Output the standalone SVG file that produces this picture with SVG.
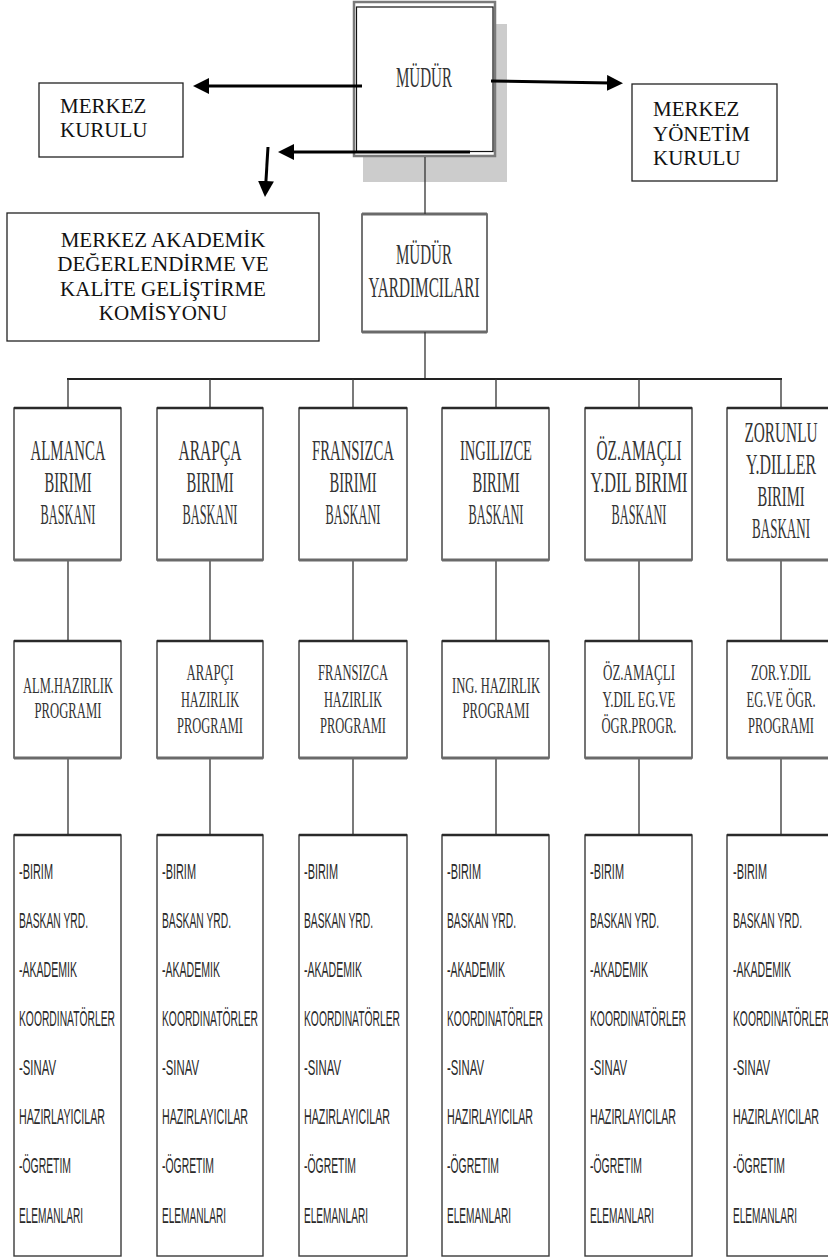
<svg xmlns="http://www.w3.org/2000/svg" width="828" height="1257" viewBox="0 0 828 1257">
<defs>
<style>
.bx{fill:#fff;stroke:#3a3a3a;stroke-width:1.4}
.tb{stroke:#2a2a2a;stroke-width:2.4}
.bb{stroke:#6a6a6a;stroke-width:3}
.ln{stroke:#333;stroke-width:1.3;fill:none}
.ar{stroke:#000;stroke-width:3;fill:none;marker-end:url(#ah)}
.t1{font-family:"Liberation Serif","Times New Roman",serif;font-size:21px;fill:#111}
.cn{font-family:"Liberation Serif","Times New Roman",serif;font-size:30px;fill:#333;text-anchor:middle}
.c2{font-family:"Liberation Serif","Times New Roman",serif;font-size:24px;fill:#333;text-anchor:middle}
.ss{font-family:"Liberation Sans",Arial,sans-serif;font-size:22px;fill:#2a2a2a}
</style>
<marker id="ah" viewBox="0 0 16 16" refX="4" refY="8" markerWidth="16" markerHeight="16" markerUnits="userSpaceOnUse" orient="auto"><path d="M0,0 L16,8 L0,16 z" fill="#000"/></marker>
</defs>
<rect width="828" height="1257" fill="#fff"/>

<g id="mudur">
<rect x="363" y="24" width="144" height="158" fill="#cccccc"/>
<rect x="354" y="2" width="141" height="154" fill="#fff" stroke="#7a7a7a" stroke-width="2.5"/>
<rect x="356.5" y="7" width="136.5" height="144.5" fill="none" stroke="#111" stroke-width="1.2"/>
<text class="cn" x="424" y="87" textLength="56" lengthAdjust="spacingAndGlyphs">MÜDÜR</text>
</g>

<g id="merkez-kurulu">
<rect x="39" y="83" width="144" height="74" fill="#fff" stroke="#222" stroke-width="1.3"/>
<text class="t1" x="60" y="113">MERKEZ</text>
<text class="t1" x="60" y="137">KURULU</text>
</g>

<g id="merkez-yonetim">
<rect x="632" y="84" width="145" height="97" fill="#fff" stroke="#222" stroke-width="1.3"/>
<text class="t1" x="653" y="116">MERKEZ</text>
<text class="t1" x="653" y="141">YÖNETİM</text>
<text class="t1" x="653" y="165">KURULU</text>
</g>

<g id="komisyon">
<rect x="7" y="213" width="312" height="128" fill="#fff" stroke="#222" stroke-width="1.3"/>
<text class="t1" x="163" y="247" text-anchor="middle">MERKEZ AKADEMİK</text>
<text class="t1" x="163" y="271" text-anchor="middle">DEĞERLENDİRME VE</text>
<text class="t1" x="163" y="296" text-anchor="middle">KALİTE GELİŞTİRME</text>
<text class="t1" x="163" y="320" text-anchor="middle">KOMİSYONU</text>
</g>

<g id="yardimcilari">
<rect class="bx" x="362" y="214" width="125" height="118"/>
<line class="bb" x1="362" y1="214" x2="487" y2="214"/>
<line class="bb" x1="362" y1="332" x2="487" y2="332"/>
<text class="cn" x="424" y="264" textLength="56" lengthAdjust="spacingAndGlyphs">MÜDÜR</text>
<text class="cn" x="424" y="297" textLength="111" lengthAdjust="spacingAndGlyphs">YARDIMCILARI</text>
</g>

<g id="connectors">
<line class="ar" x1="362" y1="86" x2="205" y2="86"/>
<line class="ar" x1="491" y1="81" x2="611" y2="83"/>
<line class="ar" x1="470" y1="152" x2="290" y2="152"/>
<line class="ar" x1="268" y1="147" x2="265.7" y2="185"/>
<line class="ln" x1="425" y1="157" x2="425" y2="214"/>
<line class="ln" x1="425" y1="332" x2="425" y2="379"/>
<line stroke="#222" stroke-width="2" x1="67" y1="379" x2="782" y2="379"/>
<path class="ln" d="M68,379V408M210,379V408M353,379V408M496,379V408M639,379V408M781,379V408"/>
<path class="ln" d="M68,560V641M210,560V641M353,560V641M496,560V641M639,560V641M781,560V641"/>
<path class="ln" d="M68,758V835M210,758V835M353,758V835M496,758V835M639,758V835M781,758V835"/>
</g>

<g id="b1-alm">
<rect class="bx" x="14" y="408" width="107" height="152"/><line class="tb" x1="14" y1="408" x2="121" y2="408"/><line class="bb" x1="14" y1="560" x2="121" y2="560"/>
<text class="cn" x="68" y="460" textLength="75" lengthAdjust="spacingAndGlyphs">ALMANCA</text>
<text class="cn" x="68" y="492" textLength="47" lengthAdjust="spacingAndGlyphs">BIRIMI</text>
<text class="cn" x="68" y="524" textLength="55" lengthAdjust="spacingAndGlyphs">BASKANI</text>
</g>
<g id="b1-ara">
<rect class="bx" x="157" y="408" width="106" height="152"/><line class="tb" x1="157" y1="408" x2="263" y2="408"/><line class="bb" x1="157" y1="560" x2="263" y2="560"/>
<text class="cn" x="210" y="460" textLength="63" lengthAdjust="spacingAndGlyphs">ARAPÇA</text>
<text class="cn" x="210" y="492" textLength="47" lengthAdjust="spacingAndGlyphs">BIRIMI</text>
<text class="cn" x="210" y="524" textLength="55" lengthAdjust="spacingAndGlyphs">BASKANI</text>
</g>
<g id="b1-fra">
<rect class="bx" x="299" y="408" width="108" height="152"/><line class="tb" x1="299" y1="408" x2="407" y2="408"/><line class="bb" x1="299" y1="560" x2="407" y2="560"/>
<text class="cn" x="353" y="460" textLength="82" lengthAdjust="spacingAndGlyphs">FRANSIZCA</text>
<text class="cn" x="353" y="492" textLength="47" lengthAdjust="spacingAndGlyphs">BIRIMI</text>
<text class="cn" x="353" y="524" textLength="55" lengthAdjust="spacingAndGlyphs">BASKANI</text>
</g>
<g id="b1-ing">
<rect class="bx" x="442" y="408" width="107" height="152"/><line class="tb" x1="442" y1="408" x2="549" y2="408"/><line class="bb" x1="442" y1="560" x2="549" y2="560"/>
<text class="cn" x="496" y="460" textLength="72" lengthAdjust="spacingAndGlyphs">INGILIZCE</text>
<text class="cn" x="496" y="492" textLength="47" lengthAdjust="spacingAndGlyphs">BIRIMI</text>
<text class="cn" x="496" y="524" textLength="55" lengthAdjust="spacingAndGlyphs">BASKANI</text>
</g>
<g id="b1-oz">
<rect class="bx" x="585" y="408" width="107" height="152"/><line class="tb" x1="585" y1="408" x2="692" y2="408"/><line class="bb" x1="585" y1="560" x2="692" y2="560"/>
<text class="cn" x="639" y="460" textLength="85" lengthAdjust="spacingAndGlyphs">ÖZ.AMAÇLI</text>
<text class="cn" x="639" y="492" textLength="97" lengthAdjust="spacingAndGlyphs">Y.DIL BIRIMI</text>
<text class="cn" x="639" y="524" textLength="55" lengthAdjust="spacingAndGlyphs">BASKANI</text>
</g>
<g id="b1-zor">
<rect class="bx" x="727" y="408" width="110" height="152"/><line class="tb" x1="727" y1="408" x2="837" y2="408"/><line class="bb" x1="727" y1="560" x2="837" y2="560"/>
<text class="cn" x="781" y="442" textLength="73" lengthAdjust="spacingAndGlyphs">ZORUNLU</text>
<text class="cn" x="781" y="474" textLength="70" lengthAdjust="spacingAndGlyphs">Y.DILLER</text>
<text class="cn" x="781" y="506" textLength="47" lengthAdjust="spacingAndGlyphs">BIRIMI</text>
<text class="cn" x="781" y="538" textLength="58" lengthAdjust="spacingAndGlyphs">BASKANI</text>
</g>

<g id="b2-alm">
<rect class="bx" x="14" y="641" width="107" height="117"/><line class="tb" x1="14" y1="641" x2="121" y2="641"/><line class="bb" x1="14" y1="758" x2="121" y2="758"/>
<text class="c2" x="68" y="693" textLength="90" lengthAdjust="spacingAndGlyphs">ALM.HAZIRLIK</text>
<text class="c2" x="68" y="718" textLength="67" lengthAdjust="spacingAndGlyphs">PROGRAMI</text>
</g>
<g id="b2-ara">
<rect class="bx" x="157" y="641" width="106" height="117"/><line class="tb" x1="157" y1="641" x2="263" y2="641"/><line class="bb" x1="157" y1="758" x2="263" y2="758"/>
<text class="c2" x="210" y="680" textLength="47" lengthAdjust="spacingAndGlyphs">ARAPÇI</text>
<text class="c2" x="210" y="707" textLength="58" lengthAdjust="spacingAndGlyphs">HAZIRLIK</text>
<text class="c2" x="210" y="733" textLength="66" lengthAdjust="spacingAndGlyphs">PROGRAMI</text>
</g>
<g id="b2-fra">
<rect class="bx" x="299" y="641" width="108" height="117"/><line class="tb" x1="299" y1="641" x2="407" y2="641"/><line class="bb" x1="299" y1="758" x2="407" y2="758"/>
<text class="c2" x="353" y="680" textLength="70" lengthAdjust="spacingAndGlyphs">FRANSIZCA</text>
<text class="c2" x="353" y="707" textLength="58" lengthAdjust="spacingAndGlyphs">HAZIRLIK</text>
<text class="c2" x="353" y="733" textLength="66" lengthAdjust="spacingAndGlyphs">PROGRAMI</text>
</g>
<g id="b2-ing">
<rect class="bx" x="442" y="641" width="107" height="117"/><line class="tb" x1="442" y1="641" x2="549" y2="641"/><line class="bb" x1="442" y1="758" x2="549" y2="758"/>
<text class="c2" x="496" y="693" textLength="88" lengthAdjust="spacingAndGlyphs">ING. HAZIRLIK</text>
<text class="c2" x="496" y="718" textLength="67" lengthAdjust="spacingAndGlyphs">PROGRAMI</text>
</g>
<g id="b2-oz">
<rect class="bx" x="585" y="641" width="107" height="117"/><line class="tb" x1="585" y1="641" x2="692" y2="641"/><line class="bb" x1="585" y1="758" x2="692" y2="758"/>
<text class="c2" x="639" y="680" textLength="72" lengthAdjust="spacingAndGlyphs">ÖZ.AMAÇLI</text>
<text class="c2" x="639" y="707" textLength="73" lengthAdjust="spacingAndGlyphs">Y.DIL EG.VE</text>
<text class="c2" x="639" y="733" textLength="75" lengthAdjust="spacingAndGlyphs">ÖGR.PROGR.</text>
</g>
<g id="b2-zor">
<rect class="bx" x="727" y="641" width="110" height="117"/><line class="tb" x1="727" y1="641" x2="837" y2="641"/><line class="bb" x1="727" y1="758" x2="837" y2="758"/>
<text class="c2" x="781" y="680" textLength="60" lengthAdjust="spacingAndGlyphs">ZOR.Y.DIL</text>
<text class="c2" x="781" y="707" textLength="69" lengthAdjust="spacingAndGlyphs">EG.VE ÖGR.</text>
<text class="c2" x="781" y="733" textLength="66" lengthAdjust="spacingAndGlyphs">PROGRAMI</text>
</g>

<defs>
<g id="stafftext">
<text class="ss" x="0" y="879" textLength="34" lengthAdjust="spacingAndGlyphs">-BIRIM</text>
<text class="ss" x="0" y="928" textLength="69" lengthAdjust="spacingAndGlyphs">BASKAN YRD.</text>
<text class="ss" x="0" y="977" textLength="58" lengthAdjust="spacingAndGlyphs">-AKADEMIK</text>
<text class="ss" x="0" y="1026" textLength="96" lengthAdjust="spacingAndGlyphs">KOORDINATÖRLER</text>
<text class="ss" x="0" y="1075" textLength="37" lengthAdjust="spacingAndGlyphs">-SINAV</text>
<text class="ss" x="0" y="1124" textLength="86" lengthAdjust="spacingAndGlyphs">HAZIRLAYICILAR</text>
<text class="ss" x="0" y="1173" textLength="52" lengthAdjust="spacingAndGlyphs">-ÖGRETIM</text>
<text class="ss" x="0" y="1223" textLength="64" lengthAdjust="spacingAndGlyphs">ELEMANLARI</text>
</g>
</defs>

<g id="b3-alm">
<rect class="bx" x="14" y="835" width="107" height="421"/><line class="tb" x1="14" y1="835" x2="121" y2="835"/>
<use href="#stafftext" x="19"/>
</g>
<g id="b3-ara">
<rect class="bx" x="157" y="835" width="106" height="421"/><line class="tb" x1="157" y1="835" x2="263" y2="835"/>
<use href="#stafftext" x="162"/>
</g>
<g id="b3-fra">
<rect class="bx" x="299" y="835" width="108" height="421"/><line class="tb" x1="299" y1="835" x2="407" y2="835"/>
<use href="#stafftext" x="304"/>
</g>
<g id="b3-ing">
<rect class="bx" x="442" y="835" width="107" height="421"/><line class="tb" x1="442" y1="835" x2="549" y2="835"/>
<use href="#stafftext" x="447"/>
</g>
<g id="b3-oz">
<rect class="bx" x="585" y="835" width="107" height="421"/><line class="tb" x1="585" y1="835" x2="692" y2="835"/>
<use href="#stafftext" x="590"/>
</g>
<g id="b3-zor">
<rect class="bx" x="727" y="835" width="110" height="421"/><line class="tb" x1="727" y1="835" x2="837" y2="835"/>
<use href="#stafftext" x="733"/>
</g>
</svg>
